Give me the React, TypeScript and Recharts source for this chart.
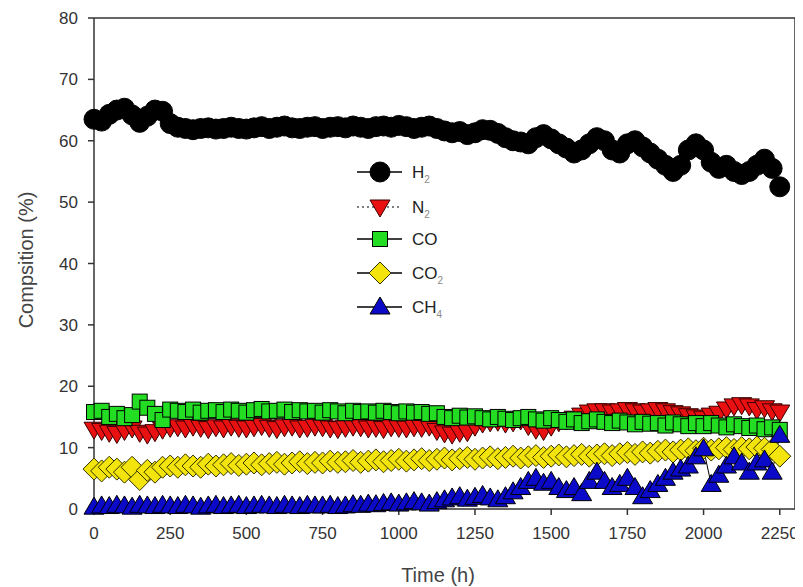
import React from 'react';
import { LineChart, Line, XAxis, YAxis, ReferenceLine, Customized } from 'recharts';

const times = [
  0, 25, 50, 75, 100, 125, 150, 175, 200, 225,
  250, 275, 300, 325, 350, 375, 400, 425, 450, 475,
  500, 525, 550, 575, 600, 625, 650, 675, 700, 725,
  750, 775, 800, 825, 850, 875, 900, 925, 950, 975,
  1000, 1025, 1050, 1075, 1100, 1125, 1150, 1175, 1200, 1225,
  1250, 1275, 1300, 1325, 1350, 1375, 1400, 1425, 1450, 1475,
  1500, 1525, 1550, 1575, 1600, 1625, 1650, 1675, 1700, 1725,
  1750, 1775, 1800, 1825, 1850, 1875, 1900, 1925, 1950, 1975,
  2000, 2025, 2050, 2075, 2100, 2125, 2150, 2175, 2200, 2225,
  2250,
];

const h2 = [
  63.5, 63.2, 64.3, 65.0, 65.3, 64.2, 63.0, 64.0, 65.0, 64.8,
  62.8, 62.2, 62.0, 61.8, 62.0, 62.1, 61.9, 62.0, 62.2, 62.0,
  61.9, 62.1, 62.3, 62.0, 62.2, 62.4, 62.1, 62.0, 62.2, 62.3,
  62.0, 62.2, 62.3, 62.1, 62.4, 62.2, 62.0, 62.3, 62.4, 62.2,
  62.5, 62.3, 62.0, 62.2, 62.4, 62.0, 61.6, 61.3, 61.5, 61.0,
  61.3, 61.8, 61.7, 61.2, 60.5, 60.0, 59.8, 59.5, 60.5, 61.0,
  60.3, 59.5, 58.8, 58.0, 58.5, 59.5, 60.5, 60.0, 58.5, 58.0,
  59.5, 60.0, 59.0, 58.0, 57.0, 56.0, 55.0, 56.0, 58.5, 59.5,
  58.5, 56.5, 55.5, 56.0, 55.0, 54.5, 55.0, 56.0, 57.0, 55.5,
  52.5,
];

const n2 = [
  13.0, 12.8, 12.5, 12.3, 12.8, 13.2, 12.5, 12.2, 12.6, 13.0,
  13.3, 13.4, 13.2, 13.5, 13.3, 13.1, 13.4, 13.2, 13.5, 13.3,
  13.2, 13.4, 13.6, 13.3, 13.1, 13.4, 13.5, 13.2, 13.3, 13.5,
  13.4, 13.2, 13.1, 13.3, 13.5, 13.4, 13.2, 13.3, 13.1, 13.4,
  13.3, 13.2, 13.4, 13.3, 13.5, 12.8, 12.4, 12.2, 12.5, 12.6,
  13.5, 14.0, 14.2, 14.3, 14.0, 14.2, 14.5, 13.6, 13.0, 12.8,
  13.5, 14.2, 14.5, 14.8, 15.3, 15.8, 16.0, 16.0, 15.8, 16.0,
  16.2, 16.0, 15.8, 16.0, 16.2, 16.0, 15.7, 15.5, 15.2, 15.0,
  14.8, 15.3, 15.6, 16.3, 16.8, 17.0, 16.8, 16.2, 16.5, 16.0,
  15.8,
];

const co = [
  15.8, 16.0, 15.0, 15.5, 14.8, 15.3, 17.5, 16.5, 15.5, 14.5,
  16.2, 16.0, 15.8, 16.2, 15.7, 16.0, 16.1, 15.8, 16.2, 16.0,
  15.7, 16.1, 16.3, 15.9, 16.0, 16.2, 15.8, 16.1, 15.9, 16.0,
  15.7, 16.1, 15.9, 15.6, 16.0, 15.8, 15.9, 15.7, 16.0, 15.8,
  15.6, 15.9, 15.7, 15.8, 15.5, 15.6, 15.0, 14.8, 15.2, 14.9,
  15.1, 14.8, 14.6, 15.0, 14.7, 14.5, 14.8, 15.0, 14.6, 14.4,
  14.8, 14.5, 14.2, 14.6, 14.0, 14.3, 14.6, 14.2, 14.0, 14.4,
  14.1, 13.8, 14.2, 13.9, 14.0, 13.6, 14.1, 13.8, 13.5, 14.0,
  13.5, 14.0, 13.6, 13.3, 13.8, 13.5, 13.2, 13.6, 13.0, 13.3,
  12.9,
];

const co2 = [
  6.5, 6.2, 6.8, 6.5, 6.0, 6.8, 4.8, 6.3, 6.0, 6.8,
  7.0, 6.8, 7.2, 7.0, 6.8, 7.3, 7.0, 7.2, 7.4, 7.1,
  7.3, 7.5, 7.2, 7.4, 7.6, 7.3, 7.5, 7.7, 7.4, 7.6,
  7.5, 7.8, 7.6, 7.7, 7.9, 7.6, 7.8, 8.0, 7.7, 7.9,
  8.1, 7.8, 8.0, 8.2, 7.9, 8.1, 8.3, 8.0, 8.2, 8.4,
  8.1, 8.3, 8.5, 8.2, 8.4, 8.6, 8.3, 8.5, 8.7, 8.4,
  8.6, 8.8, 8.5, 8.7, 8.9, 8.6, 8.8, 9.0, 8.7, 9.0,
  9.2, 8.9, 9.3, 9.1, 9.4, 9.6, 9.3, 9.6, 9.8, 9.5,
  9.9, 9.6, 9.8, 10.0, 9.7, 10.0, 9.8, 10.1, 9.9, 9.7,
  8.6,
];

const ch4 = [
  0.3, 0.5, 0.4, 0.6, 0.5, 0.3, 0.6, 0.5, 0.4, 0.6,
  0.5, 0.4, 0.6, 0.5, 0.3, 0.5, 0.6, 0.4, 0.5, 0.6,
  0.4, 0.5, 0.6, 0.5, 0.4, 0.6, 0.5, 0.4, 0.6, 0.5,
  0.5, 0.6, 0.4, 0.5, 0.7, 0.6, 0.8, 0.7, 0.9, 1.0,
  0.8, 1.0, 1.2, 1.0, 0.8, 1.2, 1.5, 1.8, 2.0, 1.6,
  1.9, 2.2, 1.8, 1.5, 2.0, 2.8, 3.5, 4.5, 5.0, 4.2,
  4.5, 3.5, 3.0, 3.5, 2.5, 4.5, 6.0, 4.5, 3.5, 4.0,
  5.0, 3.5, 2.0, 3.0, 4.0, 5.0, 6.0, 6.5, 7.0, 8.5,
  9.8, 4.0, 5.5, 7.0, 8.5, 7.5, 6.0, 7.5, 8.0, 6.0,
  12.0,
];

const xTicks = [0, 250, 500, 750, 1000, 1250, 1500, 1750, 2000, 2250];
const yTicks = [0, 10, 20, 30, 40, 50, 60, 70, 80];

const data = times.map((t, i) => ({
  t,
  H2: h2[i],
  N2: n2[i],
  CO: co[i],
  CO2: co2[i],
  CH4: ch4[i],
}));

type Kind = 'circle' | 'down' | 'square' | 'diamond' | 'up';

const series: { key: string; label: string; sub: string; kind: Kind; fill: string; stroke: string; line: string; dash?: string }[] = [
  { key: 'H2', label: 'H', sub: '2', kind: 'circle', fill: '#000000', stroke: '#000000', line: '#000000' },
  { key: 'N2', label: 'N', sub: '2', kind: 'down', fill: '#e81010', stroke: '#3a0000', line: '#555555', dash: '2 3' },
  { key: 'CO', label: 'CO', sub: '', kind: 'square', fill: '#22dd22', stroke: '#000000', line: '#000000' },
  { key: 'CO2', label: 'CO', sub: '2', kind: 'diamond', fill: '#f2e40c', stroke: '#333300', line: '#000000' },
  { key: 'CH4', label: 'CH', sub: '4', kind: 'up', fill: '#0a0ac8', stroke: '#000000', line: '#000000' },
];

function Marker({ kind, cx, cy, fill, stroke }: { kind: Kind; cx: number; cy: number; fill: string; stroke: string }) {
  if (cx == null || cy == null || isNaN(cx) || isNaN(cy)) return null;
  switch (kind) {
    case 'circle':
      return <circle cx={cx} cy={cy} r={10} fill={fill} stroke={stroke} strokeWidth={1} />;
    case 'down':
      return (
        <polygon
          points={`${cx - 10},${cy - 7} ${cx + 10},${cy - 7} ${cx},${cy + 10}`}
          fill={fill}
          stroke={stroke}
          strokeWidth={1}
        />
      );
    case 'square':
      return <rect x={cx - 7.5} y={cy - 7.5} width={15} height={15} fill={fill} stroke={stroke} strokeWidth={1} />;
    case 'diamond':
      return (
        <polygon
          points={`${cx},${cy - 11} ${cx + 11},${cy} ${cx},${cy + 11} ${cx - 11},${cy}`}
          fill={fill}
          stroke={stroke}
          strokeWidth={1}
        />
      );
    case 'up':
      return (
        <polygon
          points={`${cx},${cy - 10} ${cx + 10},${cy + 7} ${cx - 10},${cy + 7}`}
          fill={fill}
          stroke={stroke}
          strokeWidth={1}
        />
      );
  }
  return null;
}

const makeDot = (s: (typeof series)[number]) => (p: any) => (
  <Marker key={`${s.key}-${p.index}`} kind={s.kind} cx={p.cx} cy={p.cy} fill={s.fill} stroke={s.stroke} />
);

const FONT = '"Liberation Sans", Arial, sans-serif';

const LegendBox = () => {
  const rowY = [164, 199, 231, 265, 299];
  return (
    <g fontFamily={FONT}>
      {series.map((s, i) => {
        const y = rowY[i];
        return (
          <g key={s.key}>
            <line x1={349} x2={394} y1={y} y2={y} stroke={s.line} strokeWidth={1.5} strokeDasharray={s.dash} />
            <Marker kind={s.kind} cx={372} cy={y} fill={s.fill} stroke={s.stroke} />
            <text x={404} y={y + 6} fontSize={17} fill="#222">
              {s.label}
              {s.sub ? (
                <tspan dy={5} fontSize={10} fill="#888">
                  {s.sub}
                </tspan>
              ) : null}
            </text>
          </g>
        );
      })}
    </g>
  );
};

const AxisLabels = () => (
  <g fontFamily={FONT}>
    <text
      x={20}
      y={252}
      transform="rotate(-90 20 252)"
      textAnchor="middle"
      dominantBaseline="middle"
      fontSize={20}
      fill="#444"
    >
      Compsition (%)
    </text>
    <text x={430} y={574} textAnchor="middle" fontSize={20} fill="#444">
      Time (h)
    </text>
  </g>
);

export default function App() {
  return (
    <div style={{ position: 'relative', width: 795, height: 579 }}>
      <LineChart
        width={795}
        height={579}
        data={data}
        margin={{ top: 10, right: 8, left: 0, bottom: 0 }}
        style={{ fontFamily: FONT }}
      >
        <XAxis
          dataKey="t"
          type="number"
          domain={[0, 2300]}
          ticks={xTicks}
          height={78}
          tickSize={6}
          tickMargin={12}
          axisLine={{ stroke: '#333', strokeWidth: 1.5 }}
          tickLine={{ stroke: '#333', strokeWidth: 1.5 }}
          tick={{ fill: '#333', fontSize: 17, fontFamily: FONT }}
          interval={0}
        />
        <YAxis
          type="number"
          domain={[0, 80]}
          ticks={yTicks}
          width={86}
          tickSize={6}
          tickMargin={10}
          axisLine={{ stroke: '#333', strokeWidth: 1.5 }}
          tickLine={{ stroke: '#333', strokeWidth: 1.5 }}
          tick={{ fill: '#333', fontSize: 17, fontFamily: FONT }}
          interval={0}
        />
        <ReferenceLine y={80} stroke="#333" strokeWidth={1.5} />
        <ReferenceLine x={2300} stroke="#333" strokeWidth={1.5} />
        {series.map((s) => (
          <Line
            key={s.key}
            dataKey={s.key}
            stroke={s.line}
            strokeWidth={1}
            strokeDasharray={s.dash}
            dot={makeDot(s)}
            activeDot={false}
            isAnimationActive={false}
            legendType="none"
          />
        ))}
        <Customized component={LegendBox} />
        <Customized component={AxisLabels} />
      </LineChart>
    </div>
  );
}
